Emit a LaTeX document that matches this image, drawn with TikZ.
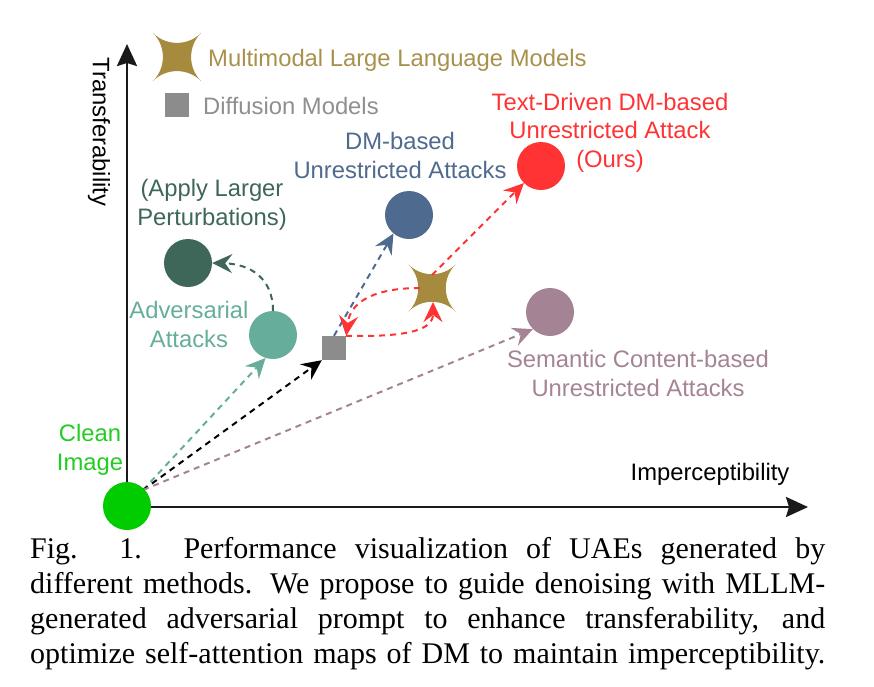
\documentclass[tikz,border=0pt]{standalone}
\usepackage{fontspec}
\setmainfont{Liberation Serif}
\newfontfamily\labelfont{Liberation Sans}
\usetikzlibrary{arrows.meta}
\definecolor{goldc}{HTML}{A68B3F}
\definecolor{goldt}{HTML}{A8914C}
\definecolor{grayc}{HTML}{8C8C8C}
\definecolor{grayt}{HTML}{8F8F8F}
\definecolor{redc}{HTML}{FF3333}
\definecolor{bluec}{HTML}{4F6A8F}
\definecolor{dtealc}{HTML}{3E6759}
\definecolor{ltealc}{HTML}{66AD9C}
\definecolor{mauvec}{HTML}{A48494}
\definecolor{greenc}{HTML}{00CC00}
\definecolor{greent}{HTML}{22CC22}
\definecolor{axisc}{HTML}{1A1A1A}
\tikzset{
  lbl/.style={font=\labelfont\fontsize{23.8}{28.5}\selectfont, align=center, inner sep=0pt},
  dot/.style={circle, minimum size=48pt, inner sep=0pt, draw=none},
  sqbox/.style={rectangle, minimum size=24pt, inner sep=0pt, fill=grayc},
  dashln/.style={line width=2pt, dash pattern=on 6pt off 5pt},
  arr/.style={-{Stealth[length=20pt,width=19pt,inset=7pt]}},
  axisln/.style={line width=2.6pt, draw=axisc, -{Stealth[length=22pt,width=20pt,inset=3pt]}},
  astar/.pic={\fill[goldc] (1,1) .. controls (0.45,0.45) and (0.45,-0.45) .. (1,-1)
      .. controls (0.45,-0.45) and (-0.45,-0.45) .. (-1,-1)
      .. controls (-0.45,-0.45) and (-0.45,0.45) .. (-1,1)
      .. controls (-0.45,0.45) and (0.45,0.45) .. cycle;},
}
\begin{document}
\begin{tikzpicture}[x=1pt,y=-1pt]
\useasboundingbox (0,0) rectangle (874,686);
% axes
\coordinate (origin) at (127,507);
\coordinate (ytop) at (127,44);
\coordinate (xend) at (808,507);
\draw[axisln] (origin) -- (ytop);
\draw[axisln] (origin) -- (xend);
\node[lbl, rotate=-90, anchor=center] (ylab) at (99,132) {Transferability};
\node[lbl, anchor=base] (xlab) at (710,480) {Imperceptibility};
% legend
\pic[scale=24] at (177,57) {astar};
\node[lbl, text=goldt, anchor=base west] (legmllm) at (208,66) {Multimodal Large Language Models};
\node[sqbox] (legsq) at (177,105) {};
\node[lbl, text=grayt, anchor=base west] (legdm) at (203,114) {Diffusion Models};
% points
\node[dot, fill=redc] (ours) at (541,166) {};
\node[dot, fill=bluec] (dmua) at (409,215) {};
\node[dot, fill=dtealc] (large) at (188,263) {};
\node[dot, fill=ltealc] (adv) at (273,335) {};
\node[dot, fill=mauvec] (sem) at (550,312) {};
\node[sqbox] (sq) at (334,348) {};
\pic[scale=23.5] at (432,288) {astar};
\coordinate (star) at (432,288);
\coordinate (startop) at (432,275);
\coordinate (starleft) at (420,288);
\coordinate (starbot) at (433,302);
% labels (anchor=base is the last line's baseline)
\node[lbl, text=redc, anchor=base] (oursl) at (610,167) {Text-Driven DM-based\\Unrestricted Attack\\(Ours)};
\node[lbl, text=bluec, anchor=base] (dmual) at (400,178) {DM-based\\Unrestricted Attacks};
\node[lbl, text=dtealc, anchor=base] (largel) at (212,225) {(Apply Larger\\Perturbations)};
\node[lbl, text=ltealc, anchor=base] (advl) at (189,347) {Adversarial\\Attacks};
\node[lbl, text=mauvec, anchor=base] (seml) at (638,396) {Semantic Content-based\\Unrestricted Attacks};
\node[lbl, text=greent, anchor=base] (cleanl) at (90,470) {Clean\\Image};
% connectors
\coordinate (cs) at (143,490);
\draw[dashln, arr, draw=ltealc] (cs) -- (adv.252);
\draw[dashln, arr, draw=black] (cs) -- (sq.south west);
\draw[dashln, arr, draw=mauvec] (cs) -- (sem.225);
\draw[dashln, arr, draw=dtealc] (adv.north) .. controls (273,278) and (250,264) .. (large.east);
\draw[dashln, arr, draw=bluec] (sq.north) -- (dmua.230);
\draw[dashln, arr, draw=redc] (sq.north east) .. controls (400,337) and (433,332) .. (starbot);
\draw[dashln, arr, draw=redc] (starleft) .. controls (372,288) and (350,303) .. (sq.north east);
\draw[dashln, arr, draw=redc] (startop) -- (ours.225);
% green on top of axes
\node[dot, fill=greenc] (clean) at (127,506) {};
% caption
\node[anchor=base west, inner sep=0pt, align=left, font=\fontsize{30}{35}\selectfont] (cap) at (30,663)
 {\makebox[795pt][s]{Fig. 1. Performance visualization of UAEs generated by}\\
  \makebox[795pt][s]{different methods. We propose to guide denoising with MLLM-}\\
  \makebox[795pt][s]{generated adversarial prompt to enhance transferability, and}\\
  \makebox[795pt][s]{optimize self-attention maps of DM to maintain imperceptibility.}};
\end{tikzpicture}
\end{document}
